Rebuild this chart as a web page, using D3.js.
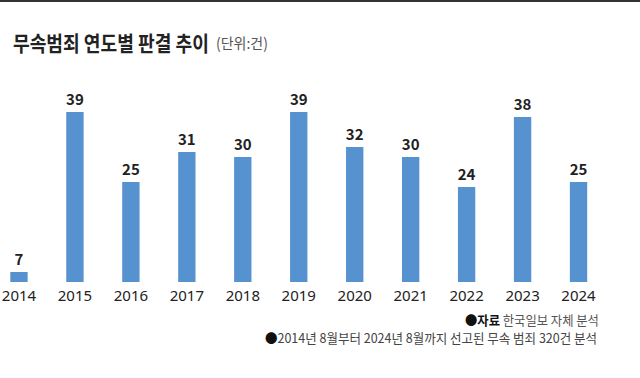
<!DOCTYPE html>
<html><head><meta charset="utf-8">
<script src="https://cdn.jsdelivr.net/npm/d3@7"></script>
<style>
html,body{margin:0;padding:0;background:#fff;}
svg{display:block;}
text{font-family:"Noto Sans CJK KR","Noto Sans",sans-serif;}
</style></head>
<body>
<script>
const years = ["2014","2015","2016","2017","2018","2019","2020","2021","2022","2023","2024"];
const counts = [7,39,25,31,30,39,32,30,24,38,25];
const title = "무속범죄 연도별 판결 추이";
const unit = "(단위:건)";
const source = ["자료", " 한국일보 자체 분석"];
const note = "2014년 8월부터 2024년 8월까지 선고된 무속 범죄 320건 분석";

const W = 640, H = 378;
const svg = d3.select("body").append("svg").attr("width", W).attr("height", H);

svg.append("rect").attr("x",0).attr("y",0).attr("width",W).attr("height",2).attr("fill","#333");

const x = d3.scaleBand().domain(years).range([-9, 606.5]).paddingInner(0.69).paddingOuter(0.345);
const y = d3.scaleLinear().domain([5, 39]).range([282, 112]);

// fit a text horizontally into a given width by scaling
function fitX(sel, x0, y0, width) {
  const w = sel.node().getComputedTextLength();
  sel.attr("transform", `translate(${x0},${y0}) scale(${width / w},1)`);
}

const t = svg.append("text").attr("font-size",21).attr("font-weight",700).attr("fill","#222").text(title);
fitX(t, 13, 51, 196);
const u = svg.append("text").attr("font-size",15).attr("fill","#555").text(unit);
fitX(u, 216, 49, 52);

const g = svg.append("g");
g.selectAll("rect.bar").data(years).join("rect").attr("class","bar")
  .attr("x", d => x(d)).attr("width", x.bandwidth())
  .attr("y", (d,i) => y(counts[i])).attr("height", (d,i) => y(5) - y(counts[i]))
  .attr("fill","#5592cf");

g.selectAll("text.val").data(years).join("text").attr("class","val")
  .attr("x", d => x(d) + x.bandwidth()/2).attr("y", (d,i) => y(counts[i]) - 7)
  .attr("text-anchor","middle").attr("font-size",15).attr("font-weight",600).attr("fill","#222")
  .text((d,i) => counts[i]);

const axis = d3.axisBottom(x).tickSize(0).tickPadding(0);
const ax = svg.append("g").attr("transform","translate(0,290)").call(axis);
ax.select(".domain").remove();
ax.selectAll("text").attr("font-size",15).attr("fill","#222").attr("dy","0.71em")
  .style("font-family","'Noto Sans','Noto Sans CJK KR',sans-serif");

const s = svg.append("text").attr("font-size",13).attr("fill","#555");
s.append("tspan").attr("fill","#111").attr("font-weight",700).text("●" + source[0]);
s.append("tspan").text(source[1]);
fitX(s, 465, 325, 134);

const n = svg.append("text").attr("font-size",13).attr("fill","#444");
n.append("tspan").attr("fill","#111").text("●");
n.append("tspan").text(note);
fitX(n, 265, 343, 332);
</script>
</body></html>
